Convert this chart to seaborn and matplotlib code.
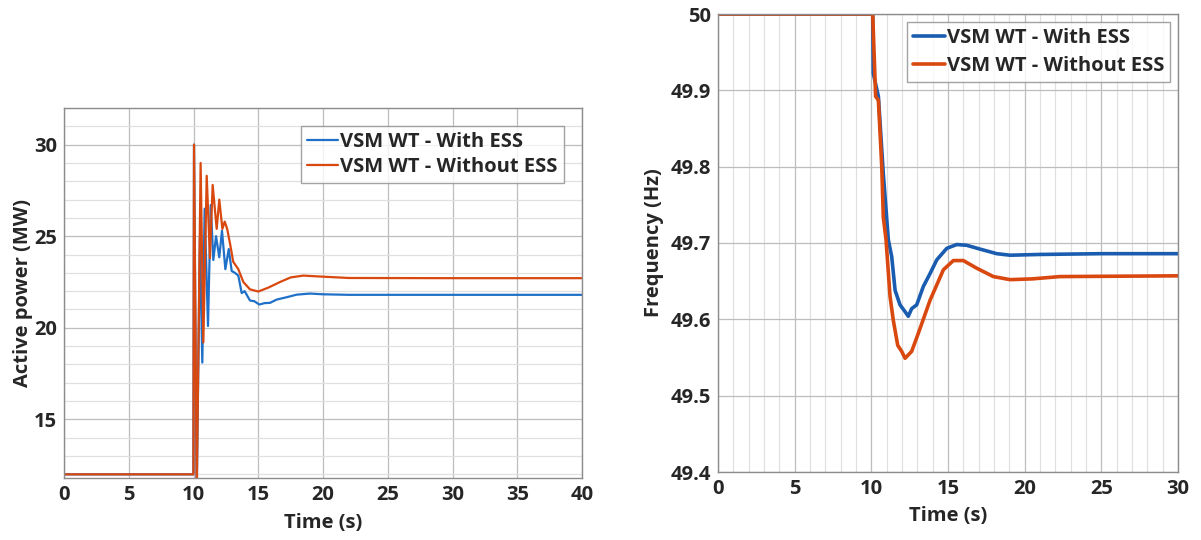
import numpy as np
import pandas as pd
import matplotlib
matplotlib.use("Agg")
import matplotlib.pyplot as plt
import seaborn as sns
from matplotlib.ticker import MultipleLocator

# ---------------- data ----------------
# Left: active power (MW)
p_time_with = [0, 9.99, 10.04, 10.25, 10.5, 10.68, 10.86, 11.12, 11.33, 11.53, 11.74, 11.99, 12.2,
               12.46, 12.72, 12.95, 13.2, 13.46, 13.72, 13.95, 14.36, 14.7, 15.08, 15.5, 15.9,
               16.42, 17.2, 17.97, 19.0, 20.0, 22.0, 30.0, 40.0]
p_with = [12, 12, 30, 11.0, 25.0, 18.1, 26.5, 20.1, 26.7, 23.7, 25.0, 23.85, 25.3,
          23.2, 24.3, 23.1, 23.0, 22.85, 21.9, 22.0, 21.49, 21.45, 21.27, 21.35, 21.36,
          21.54, 21.67, 21.81, 21.87, 21.83, 21.8, 21.8, 21.8]

p_time_without = [0, 9.99, 10.04, 10.25, 10.55, 10.76, 11.02, 11.27, 11.48, 11.79, 11.99, 12.23,
                  12.41, 12.6, 12.82, 13.07, 13.46, 13.85, 14.36, 15.0, 15.8, 16.68, 17.5, 18.48,
                  19.77, 22.0, 30.0, 40.0]
p_without = [12, 12, 30, 11.0, 29.0, 19.2, 28.3, 23.8, 27.8, 25.4, 27.0, 25.4,
             25.8, 25.4, 24.6, 23.6, 23.2, 22.5, 22.1, 21.98, 22.2, 22.5, 22.75, 22.85,
             22.8, 22.72, 22.71, 22.71]

# Right: frequency (Hz)
f_time_with = [0, 10.09, 10.13, 10.46, 10.78, 11.11, 11.33, 11.55, 11.87, 12.2, 12.41, 12.63,
               12.96, 13.39, 13.83, 14.27, 14.92, 15.57, 16.22, 17.09, 18.18, 19.05, 21.0, 25.0, 30.0]
f_with = [50.0, 50.0, 49.922, 49.892, 49.791, 49.704, 49.682, 49.638, 49.619, 49.61, 49.604, 49.614,
          49.619, 49.643, 49.660, 49.678, 49.693, 49.698, 49.697, 49.692, 49.686, 49.684, 49.685,
          49.686, 49.686]

f_time_without = [0, 10.09, 10.28, 10.46, 10.68, 10.78, 10.96, 11.22, 11.43, 11.72, 11.98, 12.2,
                  12.63, 13.07, 13.83, 14.7, 15.35, 16.0, 16.87, 17.96, 19.05, 20.5, 22.3, 30.0]
f_without = [50.0, 50.0, 49.892, 49.887, 49.80, 49.734, 49.704, 49.63, 49.599, 49.566, 49.558,
             49.549, 49.558, 49.582, 49.625, 49.665, 49.677, 49.677, 49.667, 49.656, 49.652,
             49.653, 49.656, 49.657]

labels = ["VSM WT - With ESS", "VSM WT - Without ESS"]
p_xticks = [0, 5, 10, 15, 20, 25, 30, 35, 40]
p_yticks = [15, 20, 25, 30]
f_xticks = [0, 5, 10, 15, 20, 25, 30]
f_yticks = [49.4, 49.5, 49.6, 49.7, 49.8, 49.9, 50.0]
f_yticklabels = ["49.4", "49.5", "49.6", "49.7", "49.8", "49.9", "50"]

# ---------------- style ----------------
sns.set_style("white")
plt.rcParams["font.family"] = ["Open Sans", "DejaVu Sans"]
plt.rcParams["font.weight"] = "bold"

blue_l = "#1f70c8"
blue_r = "#1a5cb0"
orange = "#d9480f"

df_p = pd.concat([
    pd.DataFrame({"t": p_time_with, "v": p_with, "series": labels[0]}),
    pd.DataFrame({"t": p_time_without, "v": p_without, "series": labels[1]}),
])
df_f = pd.concat([
    pd.DataFrame({"t": f_time_with, "v": f_with, "series": labels[0]}),
    pd.DataFrame({"t": f_time_without, "v": f_without, "series": labels[1]}),
])

fig = plt.figure(figsize=(12.01, 5.40), dpi=100)
ax1 = fig.add_axes([64 / 1201, (540 - 478) / 540, 518 / 1201, 370 / 540])
ax2 = fig.add_axes([718 / 1201, (540 - 472) / 540, 460 / 1201, 458 / 540])

sns.lineplot(data=df_p, x="t", y="v", hue="series",
             palette={labels[0]: blue_l, labels[1]: orange}, ax=ax1,
             linewidth=1.6, estimator=None, sort=False)
sns.lineplot(data=df_f, x="t", y="v", hue="series",
             palette={labels[0]: blue_r, labels[1]: orange}, ax=ax2,
             linewidth=2.6, estimator=None, sort=False)

fs = 14.5
for ax in (ax1, ax2):
    for s in ax.spines.values():
        s.set_color("#8c8c8c")
        s.set_linewidth(1.0)
    ax.tick_params(which="both", direction="in", length=3, color="#8c8c8c",
                   labelsize=fs, pad=5)
    ax.set_axisbelow(True)

# left axes
ax1.set_xlim(0, 40)
ax1.set_ylim(11.8, 32)
ax1.set_xticks(p_xticks)
ax1.set_yticks(p_yticks)
ax1.set_xticklabels([str(v) for v in p_xticks], fontsize=fs, fontweight="bold")
ax1.set_yticklabels([str(v) for v in p_yticks], fontsize=fs, fontweight="bold")
ax1.yaxis.set_minor_locator(MultipleLocator(1))
ax1.grid(which="major", color="#bdbdbd", linewidth=0.9)
ax1.grid(which="minor", axis="y", color="#e0e0e0", linewidth=0.9)
ax1.tick_params(which="minor", length=2)
ax1.set_xlabel("Time (s)", fontsize=fs, fontweight="bold", labelpad=6)
ax1.set_ylabel("Active power (MW)", fontsize=fs, fontweight="bold", labelpad=1)

# right axes
ax2.set_xlim(0, 30)
ax2.set_ylim(49.4, 50.0)
ax2.set_xticks(f_xticks)
ax2.set_yticks(f_yticks)
ax2.set_xticklabels([str(v) for v in f_xticks], fontsize=fs, fontweight="bold")
ax2.set_yticklabels(f_yticklabels, fontsize=fs, fontweight="bold")
ax2.xaxis.set_minor_locator(MultipleLocator(1))
ax2.grid(which="major", color="#bdbdbd", linewidth=0.9)
ax2.grid(which="minor", axis="x", color="#e0e0e0", linewidth=0.9)
ax2.tick_params(which="minor", length=2)
ax2.set_xlabel("Time (s)", fontsize=fs, fontweight="bold", labelpad=5)
ax2.set_ylabel("Frequency (Hz)", fontsize=fs, fontweight="bold", labelpad=5)

for ax, lw, pad, sp in ((ax1, 1.6, 0.9, 0.25), (ax2, 2.6, 0.4, 0.4)):
    h, l = ax.get_legend_handles_labels()
    leg = ax.legend(h, l, loc="upper right", frameon=True, fancybox=False,
                    edgecolor="#8c8c8c", handlelength=1.55, handletextpad=0.1,
                    borderpad=0.3, labelspacing=sp, borderaxespad=pad,
                    prop={"family": ["Open Sans", "DejaVu Sans"], "weight": "bold", "size": fs})
    leg.get_frame().set_linewidth(1.0)
    for line in leg.get_lines():
        line.set_linewidth(lw)

fig.savefig("out.png", dpi=100, facecolor="white")
